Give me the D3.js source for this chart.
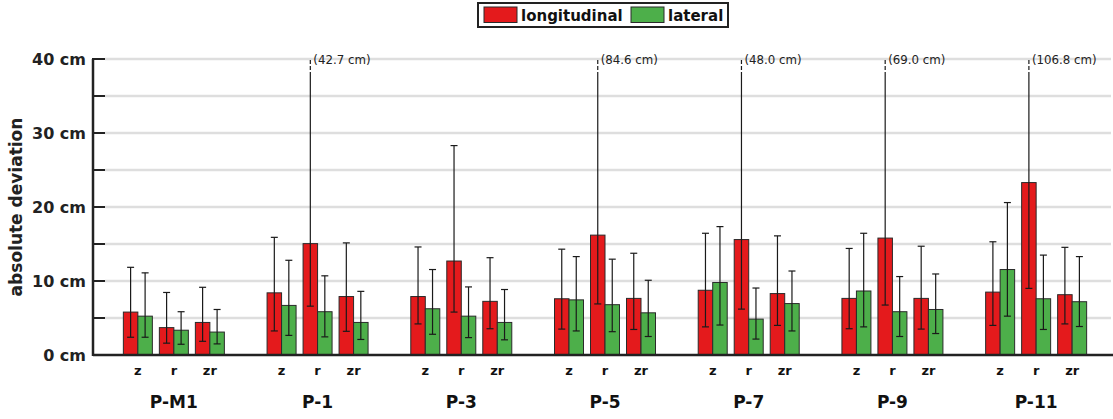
<!DOCTYPE html>
<html>
<head>
<meta charset="utf-8">
<script src="https://cdn.jsdelivr.net/npm/d3@7"></script>
<style>
  body { margin: 0; background: #fff; }
  svg { display: block; font-family: "DejaVu Sans", sans-serif; }
</style>
</head>
<body>
<svg id="mainsvg" width="1113" height="419"></svg>
<script>
// data (cm)
const groups = ["P-M1", "P-1", "P-3", "P-5", "P-7", "P-9", "P-11"];
const subs = ["z", "r", "zr"];
const seriesNames = ["longitudinal", "lateral"];

const longMean = [[5.8, 3.7, 4.4], [8.4, 15.05, 7.9], [7.9, 12.7, 7.25], [7.6, 16.2, 7.65], [8.75, 15.6, 8.3], [7.65, 15.8, 7.65], [8.5, 23.3, 8.15]];
const longLo   = [[2.4, 1.6, 1.85], [3.25, 6.6, 3.2], [4.2, 5.8, 3.55], [3.5, 6.9, 3.45], [3.8, 6.2, 4.0], [3.55, 6.75, 3.5], [4.0, 9.0, 4.2]];
const longHi   = [[11.85, 8.45, 9.15], [15.9, 42.7, 15.15], [14.6, 28.3, 13.15], [14.3, 84.6, 13.75], [16.45, 48.0, 16.1], [14.4, 69.0, 14.7], [15.3, 106.8, 14.55]];

const latMean = [[5.25, 3.35, 3.1], [6.7, 5.85, 4.4], [6.25, 5.25, 4.4], [7.45, 6.8, 5.7], [9.8, 4.85, 6.95], [8.65, 5.85, 6.15], [11.55, 7.6, 7.2]];
const latLo   = [[2.4, 1.45, 1.5], [2.65, 2.45, 2.1], [2.8, 2.35, 2.05], [3.25, 3.15, 2.5], [4.05, 2.15, 3.25], [3.8, 2.5, 2.9], [5.25, 3.45, 3.85]];
const latHi   = [[11.1, 5.85, 6.15], [12.8, 10.7, 8.6], [11.55, 9.2, 8.85], [13.3, 12.95, 10.1], [17.35, 9.05, 11.35], [16.45, 10.6, 10.95], [20.6, 13.5, 13.3]];

const yTicks = [0, 10, 20, 30, 40];
const yMinor = [5, 15, 25, 35];

const color = { longitudinal: "#e41a1c", lateral: "#4daf4a" };

const svg = d3.select('#mainsvg');
const width = +svg.attr('width');
const height = +svg.attr('height');
const margin = { top: 59, right: 3, bottom: 64, left: 93 };
const yMax = 40;

const yScale = d3.scaleLinear().domain([0, yMax]).range([height - margin.bottom, margin.top]);
const xGroup = d3.scaleBand().domain(groups).range([102, 1108]);
const xSub = d3.scaleBand().domain(subs).range([-54, 54]);
const barW = 14.5;

// build flat list of bars
const bars = [];
groups.forEach((g, gi) => {
  subs.forEach((s, si) => {
    [[longMean, longLo, longHi], [latMean, latLo, latHi]].forEach((arr, k) => {
      bars.push({
        group: g, sub: s, series: seriesNames[k],
        mean: arr[0][gi][si], lo: arr[1][gi][si], hi: arr[2][gi][si],
        x: xGroup(g) + xGroup.bandwidth() / 2 + xSub(s) + xSub.bandwidth() / 2 + (k === 0 ? -barW : 0)
      });
    });
  });
});

// grid
svg.append('g').selectAll('line').data(yTicks.concat(yMinor).filter(d => d > 0)).join('line')
  .attr('x1', 105).attr('x2', width - 2)
  .attr('y1', d => yScale(d)).attr('y2', d => yScale(d))
  .attr('stroke', '#dedede').attr('stroke-width', 2.5);

// bars
svg.append('g').selectAll('rect').data(bars).join('rect')
  .attr('x', d => d.x)
  .attr('y', d => yScale(d.mean))
  .attr('width', barW)
  .attr('height', d => yScale(0) - yScale(d.mean))
  .attr('fill', d => color[d.series])
  .attr('stroke', '#2a2a2a')
  .attr('stroke-width', 1);

// error bars
const eb = svg.append('g').attr('stroke', '#1a1a1a').attr('stroke-width', 1.2);
const cut = 37.7;
bars.forEach(d => {
  const cx = d.x + barW / 2;
  const over = d.hi > yMax;
  eb.append('line').attr('x1', cx).attr('x2', cx)
    .attr('y1', yScale(d.lo)).attr('y2', yScale(over ? cut : d.hi));
  eb.append('line').attr('x1', cx - 3.5).attr('x2', cx + 3.5)
    .attr('y1', yScale(d.lo)).attr('y2', yScale(d.lo));
  if (over) {
    eb.append('line').attr('x1', cx).attr('x2', cx)
      .attr('y1', yScale(cut)).attr('y2', yScale(yMax))
      .attr('stroke-dasharray', '4,2');
    svg.append('text')
      .attr('x', cx + 3).attr('y', yScale(yMax) + 5)
      .attr('font-size', '11.8px').attr('fill', '#222')
      .text('(' + d.hi.toFixed(1) + ' cm)');
  } else {
    eb.append('line').attr('x1', cx - 3.5).attr('x2', cx + 3.5)
      .attr('y1', yScale(d.hi)).attr('y2', yScale(d.hi));
  }
});

// axes
svg.append('line').attr('x1', margin.left).attr('x2', width)
  .attr('y1', yScale(0)).attr('y2', yScale(0))
  .attr('stroke', '#222').attr('stroke-width', 2.5);
svg.append('line').attr('x1', margin.left).attr('x2', margin.left)
  .attr('y1', yScale(0) + 1).attr('y2', yScale(yMax))
  .attr('stroke', '#222').attr('stroke-width', 2.5);
svg.append('g').selectAll('line').data(yTicks.concat(yMinor)).join('line')
  .attr('x1', margin.left - 1).attr('x2', 105)
  .attr('y1', d => yScale(d)).attr('y2', d => yScale(d))
  .attr('stroke', '#222').attr('stroke-width', 2);
svg.append('g').selectAll('text').data(yTicks).join('text')
  .attr('x', 86).attr('y', d => yScale(d)).attr('dy', '0.36em')
  .attr('text-anchor', 'end').attr('font-size', '16px').attr('font-weight', 'bold')
  .attr('fill', '#222')
  .text(d => d + ' cm');

svg.append('text')
  .attr('transform', `translate(22, ${yScale(20)}) rotate(-90)`)
  .attr('text-anchor', 'middle').attr('font-size', '17px').attr('font-weight', 'bold')
  .attr('fill', '#222')
  .text('absolute deviation');

// x labels
groups.forEach(g => {
  const gc = xGroup(g) + xGroup.bandwidth() / 2;
  subs.forEach(s => {
    svg.append('text')
      .attr('x', gc + xSub(s) + xSub.bandwidth() / 2).attr('y', 375)
      .attr('text-anchor', 'middle').attr('font-size', '13px').attr('font-weight', 'bold')
      .attr('fill', '#111').text(s);
  });
  svg.append('text')
    .attr('x', gc).attr('y', 408)
    .attr('text-anchor', 'middle').attr('font-size', '17px').attr('font-weight', 'bold')
    .attr('fill', '#111').text(g);
});

// legend
const lg = svg.append('g');
lg.append('rect').attr('x', 478).attr('y', 3).attr('width', 250).attr('height', 24)
  .attr('fill', '#fff').attr('stroke', '#222').attr('stroke-width', 2);
const legendX = [484, 631];
seriesNames.forEach((s, i) => {
  lg.append('rect').attr('x', legendX[i]).attr('y', 7).attr('width', 33).attr('height', 15.5)
    .attr('fill', color[s]).attr('stroke', '#2a2a2a').attr('stroke-width', 1);
  lg.append('text').attr('x', legendX[i] + 37).attr('y', 20.5)
    .attr('font-size', '15px').attr('font-weight', 'bold').attr('fill', '#111')
    .text(s);
});
</script>
</body>
</html>
